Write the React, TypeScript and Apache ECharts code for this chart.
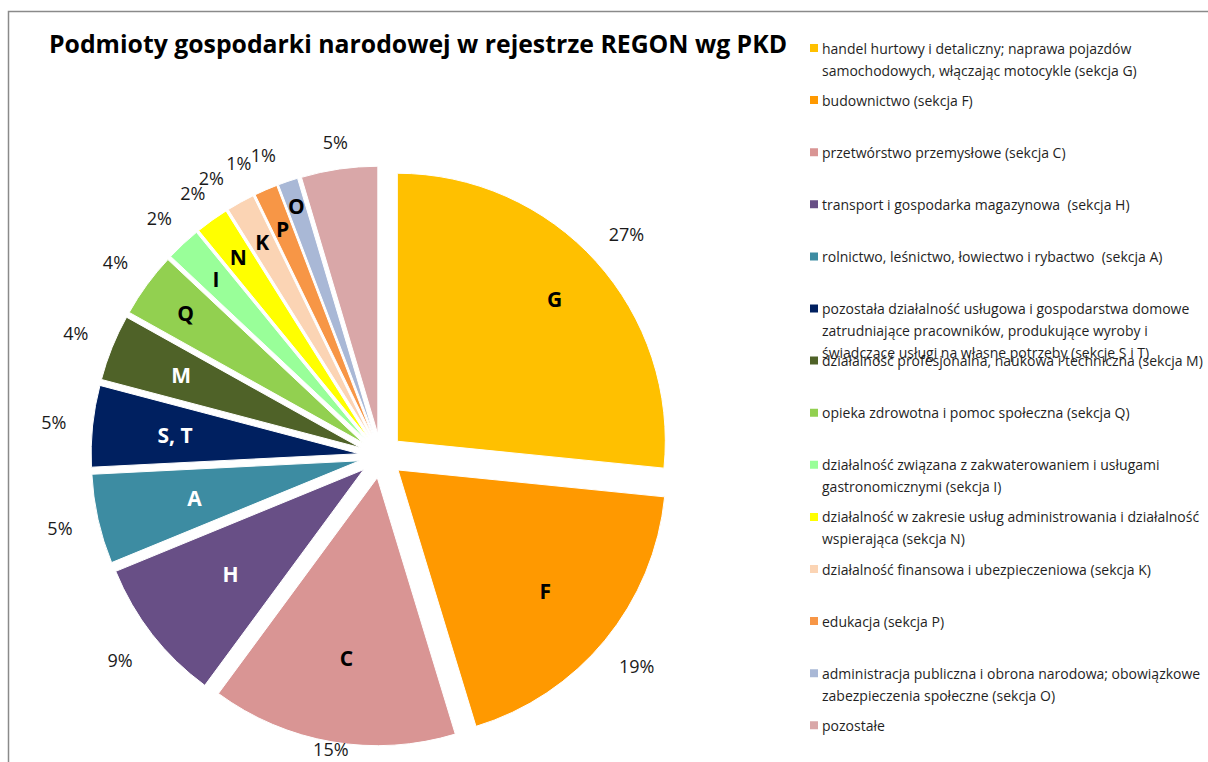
import React, { useEffect, useRef } from "react";
import * as echarts from "echarts";

const categories = [
  "handel hurtowy i detaliczny; naprawa pojazdów samochodowych, włączając motocykle (sekcja G)",
  "budownictwo (sekcja F)",
  "przetwórstwo przemysłowe (sekcja C)",
  "transport i gospodarka magazynowa  (sekcja H)",
  "rolnictwo, leśnictwo, łowiectwo i rybactwo  (sekcja A)",
  "pozostała działalność usługowa i gospodarstwa domowe zatrudniające pracowników, produkujące wyroby i świadczące usługi na własne potrzeby (sekcje S i T)",
  "działalność profesjonalna, naukowa i techniczna (sekcja M)",
  "opieka zdrowotna i pomoc społeczna (sekcja Q)",
  "działalność związana z zakwaterowaniem i usługami gastronomicznymi (sekcja I)",
  "działalność w zakresie usług administrowania i działalność wspierająca (sekcja N)",
  "działalność finansowa i ubezpieczeniowa (sekcja K)",
  "edukacja (sekcja P)",
  "administracja publiczna i obrona narodowa; obowiązkowe zabezpieczenia społeczne (sekcja O)",
  "pozostałe",
];

const legendLabels = [
  "handel hurtowy i detaliczny; naprawa pojazdów\nsamochodowych, włączając motocykle (sekcja G)",
  "budownictwo (sekcja F)",
  "przetwórstwo przemysłowe (sekcja C)",
  "transport i gospodarka magazynowa  (sekcja H)",
  "rolnictwo, leśnictwo, łowiectwo i rybactwo  (sekcja A)",
  "pozostała działalność usługowa i gospodarstwa domowe\nzatrudniające pracowników, produkujące wyroby i\nświadczące usługi na własne potrzeby (sekcje S i T)",
  "działalność profesjonalna, naukowa i techniczna (sekcja M)",
  "opieka zdrowotna i pomoc społeczna (sekcja Q)",
  "działalność związana z zakwaterowaniem i usługami\ngastronomicznymi (sekcja I)",
  "działalność w zakresie usług administrowania i działalność\nwspierająca (sekcja N)",
  "działalność finansowa i ubezpieczeniowa (sekcja K)",
  "edukacja (sekcja P)",
  "administracja publiczna i obrona narodowa; obowiązkowe\nzabezpieczenia społeczne (sekcja O)",
  "pozostałe",
];

const letters = ["G", "F", "C", "H", "A", "S, T", "M", "Q", "I", "N", "K", "P", "O", ""];

const values = [26.6, 18.7, 14.8, 8.7, 5.4, 4.9, 4.0, 3.9, 2.1, 2.0, 1.7, 1.4, 1.2, 4.6];

const colors = [
  "#FFC000", "#FF9900", "#D99594", "#684F86", "#3D8CA2", "#002060", "#4F6228",
  "#92D050", "#99FF99", "#FFFF00", "#FBD4B4", "#F79646", "#A9B8D6", "#D9A7A8",
];

const letterColors = [
  "#000", "#000", "#000", "#fff", "#fff", "#fff", "#fff",
  "#000", "#000", "#000", "#000", "#000", "#000", "#000",
];

// label placement: letters at a fraction of the radius; percentages either inside a
// transparent outer ring (mid radius in px) or as outside labels (line length in px)
const letterRadius = [0.78, 0.7, 0.67, 0.62, 0.62, 0.68, 0.71, 0.81, 0.81, 0.82, 0.82, 0.83, 0.89, 0];
const percentRadius = [306, 306, 272, 306, 304, 304, 304, 304, 300, 298, 0, 0, 0, 292];
const percentOutside = [0, 0, 0, 0, 0, 0, 0, 0, 0, 0, 28, 29, 28, 0];

const FONT = "'Open Sans', 'Noto Sans', sans-serif";
const CX = 381;
const CY = 456;
const R = 268;
const OFFSET = 22;

export default function App() {
  const ref = useRef<HTMLDivElement>(null);
  useEffect(() => {
    document.body.style.margin = "0";
    if (!ref.current) return;
    const chart = echarts.init(ref.current, null, { renderer: "svg" });
    const total = values.reduce((a, b) => a + b, 0);
    const pct = (i: number) => Math.round((values[i] / total) * 100) + "%";

    const transparent = "rgba(0,0,0,0)";
    const baseData = (extra: (i: number) => any) =>
      categories.map((name, i) => ({
        name,
        value: values[i],
        selected: true,
        ...extra(i),
      }));

    const series: any[] = [];
    series.push({
      type: "pie",
      name: "main",
      center: [CX, CY],
      radius: [0, R],
      startAngle: 90,
      clockwise: true,
      selectedMode: "multiple",
      selectedOffset: OFFSET,
      avoidLabelOverlap: false,
      label: { show: false },
      labelLine: { show: false },
      itemStyle: { borderColor: "#fff", borderWidth: 1 },
      emphasis: { disabled: true },
      select: { itemStyle: { borderColor: "#fff", borderWidth: 1 } },
      data: baseData((i) => ({ itemStyle: { color: colors[i] } })),
    });

    // one transparent layer per label
    const layer = (r0: number, r1: number, idx: number, text: string, lbl: any, extra: any = {}) => ({
      type: "pie",
      center: [CX, CY],
      radius: [r0, r1],
      startAngle: 90,
      clockwise: true,
      silent: true,
      selectedMode: "multiple",
      selectedOffset: OFFSET,
      avoidLabelOverlap: false,
      labelLayout: { hideOverlap: false, moveOverlap: null },
      labelLine: { show: false },
      itemStyle: { color: transparent, borderWidth: 0 },
      emphasis: { disabled: true },
      select: { itemStyle: { color: transparent, borderWidth: 0 } },
      ...extra,
      data: baseData((i) => ({
        itemStyle: { color: transparent },
        label: {
          show: i === idx,
          position: "inside",
          formatter: i === idx ? text : "",
          ...lbl,
        },
      })),
    });

    letters.forEach((l, i) => {
      const f = letterRadius[i];
      if (!l || !f) return;
      series.push(
        layer(Math.round((2 * f - 1) * R), R, i, l, {
          color: letterColors[i],
          fontSize: 21,
          fontWeight: "bold",
          fontFamily: FONT,
        })
      );
    });

    const pctStyle = { color: "#1a1a1a", fontSize: 18, fontFamily: FONT };
    values.forEach((_, i) => {
      const p = percentRadius[i];
      const out = percentOutside[i];
      if (p > 0) {
        series.push(layer(R, R + 2 * (p - R), i, pct(i), pctStyle));
      } else if (out > 0) {
        series.push(
          layer(0, R, i, pct(i), { ...pctStyle, position: "outside", distanceToLabelLine: 3 }, {
            labelLine: { show: false, length: out, length2: 0 },
          })
        );
      }
    });

    const LH = 22;
    const legends = categories.map((name, i) => {
      const lines = legendLabels[i].split("\n").length;
      const centerY = 48 + i * 52.1;
      // leading blank lines keep the marker level with the first text line
      const text = "\n".repeat(lines - 1) + legendLabels[i];
      return {
        orient: "vertical",
        left: 808,
        top: centerY - ((2 * lines - 1) * LH) / 2,
        padding: 0,
        selectedMode: false,
        icon: "rect",
        itemWidth: 10,
        itemHeight: 10,
        itemGap: 0,
        data: [name],
        formatter: () => text,
        textStyle: {
          fontFamily: FONT,
          fontSize: 14,
          color: "#1f1f1f",
          lineHeight: LH,
          padding: [0, 0, 0, -2],
        },
      };
    });

    chart.setOption({
      animation: false,
      backgroundColor: "#fff",
      title: {
        text: "Podmioty gospodarki narodowej w rejestrze REGON wg PKD",
        left: 49,
        top: 30,
        padding: 0,
        textStyle: { fontFamily: FONT, fontSize: 24.8, fontWeight: "bold", color: "#000" },
      },
      legend: legends,
      graphic: [
        {
          type: "rect",
          shape: { x: 8.5, y: 11.5, width: 1400, height: 1000 },
          style: { fill: "none", stroke: "#8a8a8a", lineWidth: 1.5 },
          silent: true,
          z: -10,
        },
      ],
      series,
    });
    return () => chart.dispose();
  }, []);
  return <div ref={ref} style={{ width: 1208, height: 762 }} />;
}
